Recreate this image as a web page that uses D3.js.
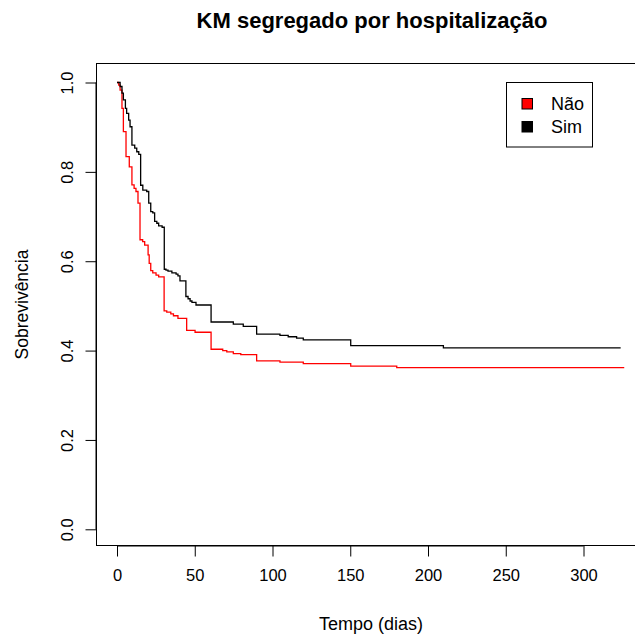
<!DOCTYPE html>
<html>
<head>
<meta charset="utf-8">
<script src="https://cdn.jsdelivr.net/npm/d3@7"></script>
<style>
  html, body { margin: 0; padding: 0; background: #fff; }
  svg { display: block; font-family: "Liberation Sans", Arial, sans-serif; }
</style>
</head>
<body>
<svg id="chart" width="635" height="637"></svg>
<script>
// ---- data ----
const groups = ["Não", "Sim"];
const groupColors = ["#ff0000", "#000000"];

// Kaplan-Meier step points: time (dias) and survival after each step
const naoTime = [0, 1.1, 2.0, 3.2, 4.1, 5.8, 7.9, 9.6, 11.0, 12.2, 13.5, 14.8, 16.5, 17.8, 20.0, 20.7, 21.7, 23.0, 25.1, 26.8, 30.3, 32.0, 34.6, 36.3, 39.2, 44.8, 50.2, 60.5, 68.0, 70.6, 74.8, 79.6, 89.8, 104.8, 119.8, 150.3, 179.9, 326.2];
const naoSurv = [1.0, 0.994, 0.983, 0.942, 0.890, 0.834, 0.811, 0.771, 0.763, 0.756, 0.730, 0.648, 0.644, 0.636, 0.614, 0.595, 0.579, 0.574, 0.569, 0.565, 0.489, 0.486, 0.482, 0.478, 0.472, 0.445, 0.441, 0.403, 0.400, 0.397, 0.393, 0.391, 0.377, 0.374, 0.371, 0.365, 0.362, 0.362];

const simTime = [0, 2.0, 3.2, 4.1, 5.4, 6.2, 7.5, 8.4, 9.6, 11.4, 12.7, 14.0, 15.2, 16.6, 19.1, 20.4, 21.7, 23.0, 24.2, 25.6, 26.8, 29.0, 30.4, 31.5, 32.8, 35.3, 38.0, 39.2, 40.5, 44.3, 45.7, 47.0, 48.2, 50.8, 60.5, 74.8, 81.2, 89.8, 104.8, 110.1, 115.5, 119.8, 150.3, 209.9, 323.9];
const simSurv = [1.0, 0.991, 0.976, 0.961, 0.942, 0.931, 0.916, 0.901, 0.860, 0.853, 0.845, 0.839, 0.770, 0.759, 0.756, 0.730, 0.711, 0.708, 0.689, 0.685, 0.679, 0.676, 0.582, 0.580, 0.578, 0.574, 0.571, 0.567, 0.556, 0.521, 0.516, 0.511, 0.508, 0.502, 0.464, 0.459, 0.454, 0.437, 0.434, 0.431, 0.428, 0.424, 0.411, 0.406, 0.406];

const xTicks = [0, 50, 100, 150, 200, 250, 300];
const yTicks = [0.0, 0.2, 0.4, 0.6, 0.8, 1.0];

const titleText = "KM segregado por hospitalização";
const xLabel = "Tempo (dias)";
const yLabel = "Sobrevivência";

// ---- layout ----
const svg = d3.select("#chart");
const frame = { left: 96.5, top: 63.5, right: 644, bottom: 545.5 };

const x = d3.scaleLinear().domain([0, 300]).range([117, 583.5]);
const y = d3.scaleLinear().domain([0, 1]).range([529.3, 82.5]);

// frame
svg.append("rect")
  .attr("x", frame.left).attr("y", frame.top)
  .attr("width", frame.right - frame.left).attr("height", frame.bottom - frame.top)
  .attr("fill", "none").attr("stroke", "#000").attr("stroke-width", 1);

// x axis
const xAxis = d3.axisBottom(x).tickValues(xTicks).tickSize(11).tickPadding(13)
  .tickFormat(d3.format("d"));
const gx = svg.append("g").attr("transform", `translate(0,${frame.bottom})`).call(xAxis);
gx.select(".domain").attr("d", `M${x(0)},0.5H${x(300)}`).attr("stroke", "#000");
gx.selectAll("text").attr("font-size", 16.5).attr("fill", "#000")
  .attr("font-family", "Liberation Sans, Arial, sans-serif");

// y axis
const yAxis = d3.axisLeft(y).tickValues(yTicks).tickSize(11).tickPadding(0)
  .tickFormat(d3.format(".1f"));
const gy = svg.append("g").attr("transform", `translate(${frame.left},0)`).call(yAxis);
gy.select(".domain").attr("d", `M-0.5,${y(0)}V${y(1)}`).attr("stroke", "#000");
gy.selectAll("text")
  .attr("font-size", 16.5).attr("fill", "#000")
  .attr("font-family", "Liberation Sans, Arial, sans-serif")
  .attr("text-anchor", "middle")
  .attr("dy", null)
  .attr("x", null)
  .attr("y", 0)
  .attr("transform", "translate(-24,0) rotate(-90)");

// curves
const line = d3.line()
  .x((d) => x(d[0]))
  .y((d) => y(d[1]))
  .curve(d3.curveStepAfter);

const series = [
  { name: groups[0], color: groupColors[0], pts: d3.zip(naoTime, naoSurv) },
  { name: groups[1], color: groupColors[1], pts: d3.zip(simTime, simSurv) }
];

svg.append("g").selectAll("path").data(series).join("path")
  .attr("d", (d) => line(d.pts))
  .attr("fill", "none")
  .attr("stroke", (d) => d.color)
  .attr("stroke-width", 1.3);

// title
svg.append("text")
  .attr("x", 372).attr("y", 28)
  .attr("text-anchor", "middle")
  .attr("font-size", 22).attr("font-weight", "bold")
  .text(titleText);

// x label
svg.append("text")
  .attr("x", 371).attr("y", 630)
  .attr("text-anchor", "middle")
  .attr("font-size", 18)
  .text(xLabel);

// y label
svg.append("text")
  .attr("transform", `translate(28,${(frame.top + frame.bottom) / 2}) rotate(-90)`)
  .attr("text-anchor", "middle")
  .attr("font-size", 17.5)
  .text(yLabel);

// legend
const leg = svg.append("g");
leg.append("rect")
  .attr("x", 506.5).attr("y", 82.5).attr("width", 86).attr("height", 64.5)
  .attr("fill", "#fff").attr("stroke", "#000").attr("stroke-width", 1);
const items = leg.selectAll("g.item").data(groups).join("g").attr("class", "item")
  .attr("transform", (d, i) => `translate(0,${i * 23})`);
items.append("rect")
  .attr("x", 522).attr("y", 98.5).attr("width", 10.5).attr("height", 10.5)
  .attr("fill", (d, i) => groupColors[i]).attr("stroke", "#000").attr("stroke-width", 1);
items.append("text")
  .attr("x", 551).attr("y", 110)
  .attr("font-size", 18)
  .text((d) => d);
</script>
</body>
</html>
